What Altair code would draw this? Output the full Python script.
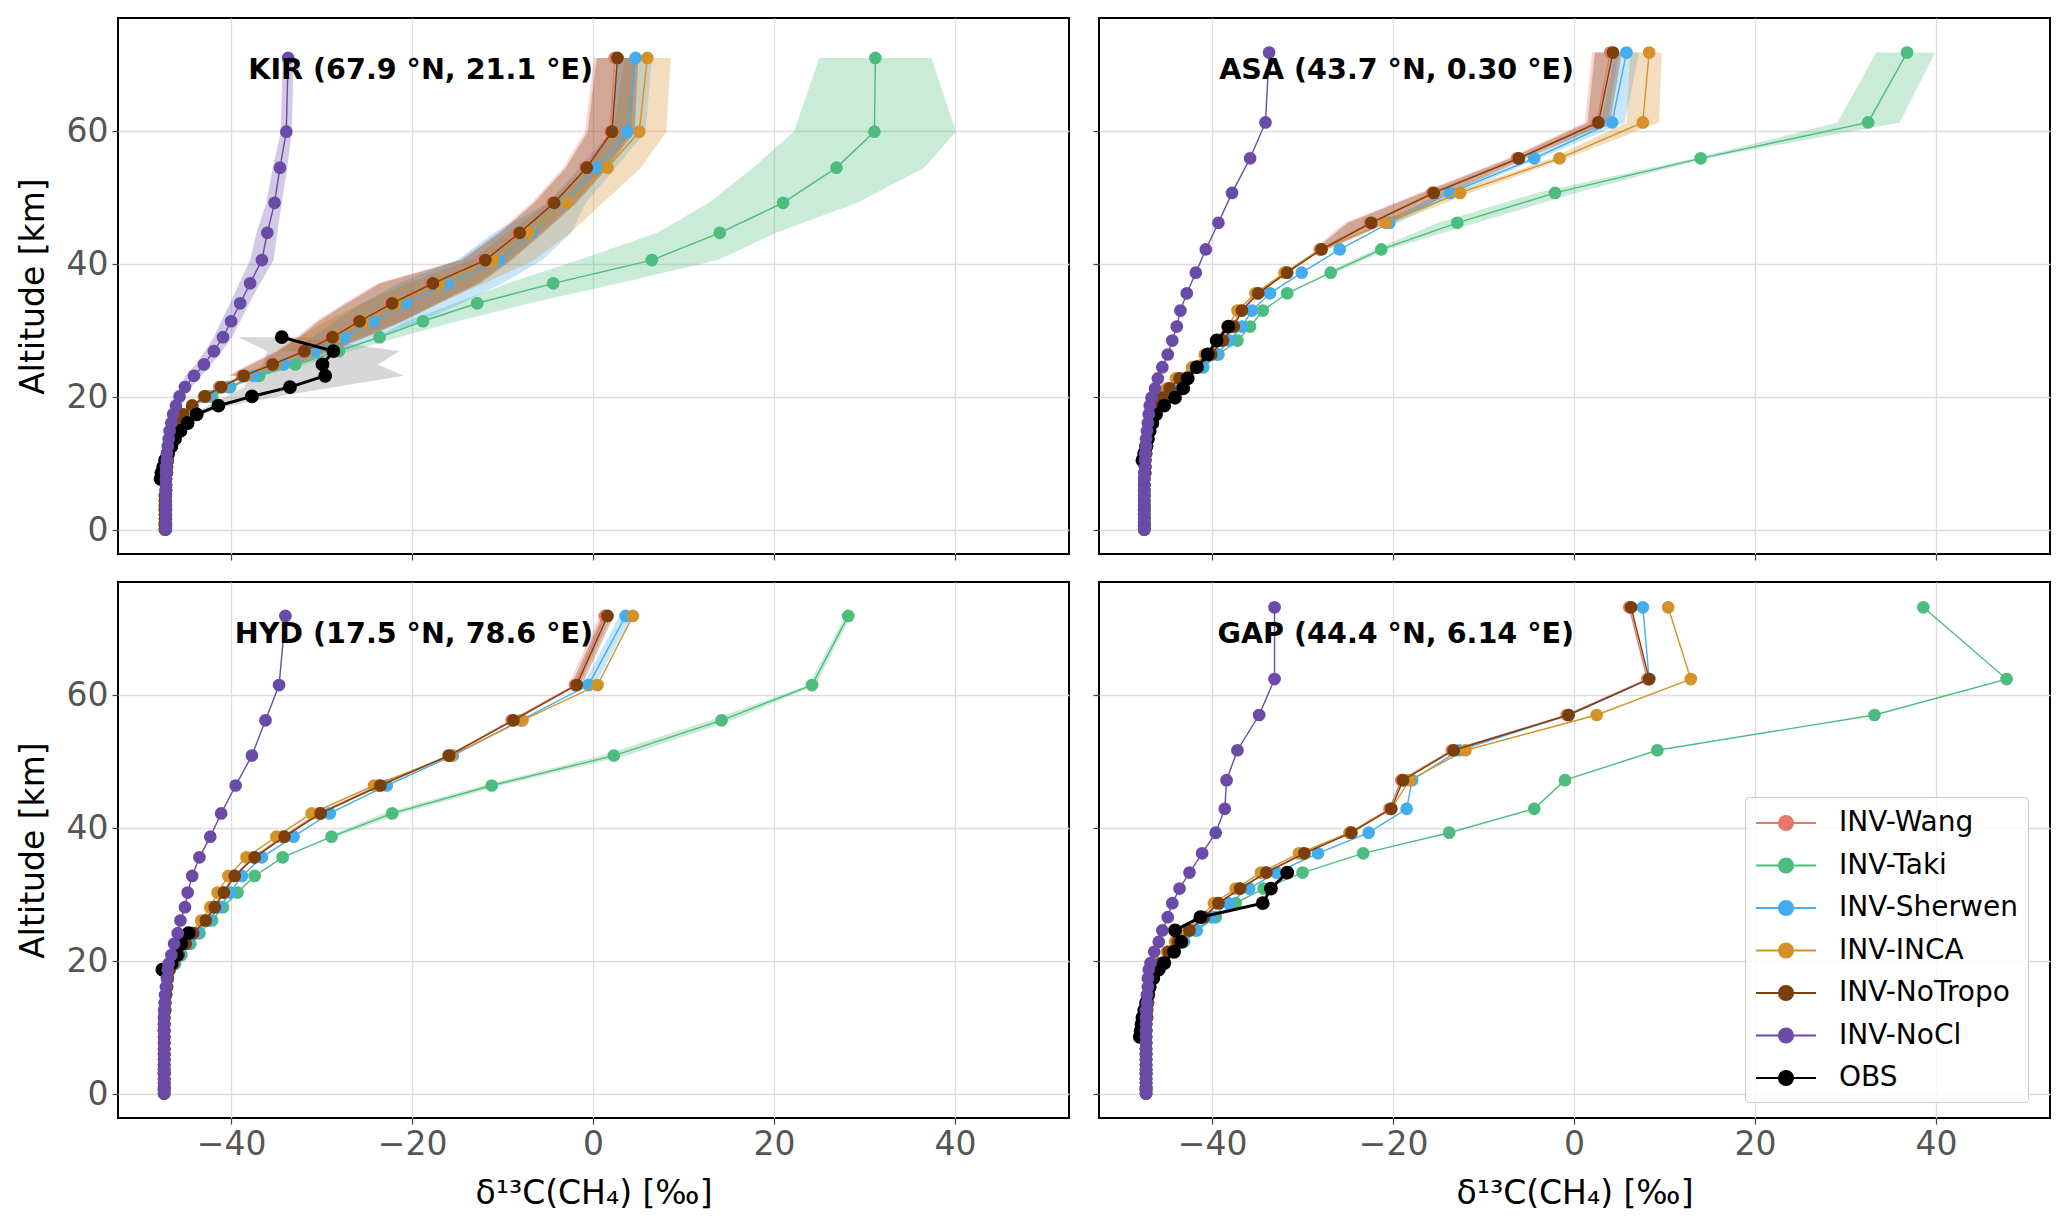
import altair as alt
import pandas as pd

# series, colours and panels
series_order = ["INV-Wang", "INV-Taki", "INV-Sherwen", "INV-INCA", "INV-NoTropo", "INV-NoCl", "OBS"]
series_colors = ["#e5786d", "#4dbd7f", "#45acef", "#d4922a", "#7b3f0b", "#6a4ba8", "#000000"]
draw_order = ["INV-Wang", "INV-Taki", "INV-Sherwen", "INV-INCA", "INV-NoTropo", "OBS", "INV-NoCl"]
band_order = ["OBS", "INV-Taki", "INV-Wang", "INV-Sherwen", "INV-INCA", "INV-NoTropo", "INV-NoCl"]

stations = ["KIR", "ASA", "HYD", "GAP"]
station_titles = ["KIR (67.9 °N, 21.1 °E)", "ASA (43.7 °N, 0.30 °E)",
                  "HYD (17.5 °N, 78.6 °E)", "GAP (44.4 °N, 6.14 °E)"]

x_ticks = [-40, -20, 0, 20, 40]
y_ticks = [0, 20, 40, 60]

# model levels below ~19 km (shared by all stations)
low_alt = [18.7, 17.4, 16.1, 14.9, 13.7, 12.6, 11.5, 10.5, 9.5, 8.6, 7.7, 6.8,
           6.0, 5.2, 4.4, 3.7, 3.0, 2.3, 1.7, 1.1, 0.6, 0.1]

# ---------------- KIR ----------------
kir_alt = [71.0, 59.9, 54.5, 49.2, 44.7, 40.6, 37.1, 34.1, 31.4, 29.0, 26.9, 24.9, 23.2, 21.5, 20.1]
kir_wang = [2.4, 1.9, -0.9, -4.5, -8.3, -12.1, -17.9, -22.4, -26.0, -29.0, -32.1, -35.6, -38.8, -41.3, -43.0]
kir_taki = [31.2, 31.1, 26.9, 21.0, 14.0, 6.5, -4.4, -12.8, -18.8, -23.6, -28.1, -32.9, -36.9, -40.1, -42.1]
kir_sherwen = [4.7, 3.8, 0.5, -3.2, -6.8, -10.4, -16.1, -20.7, -24.3, -27.5, -30.7, -34.2, -37.5, -40.3, -42.4]
kir_inca = [6.0, 5.1, 1.6, -2.9, -7.1, -11.0, -17.0, -21.8, -25.4, -28.6, -31.8, -35.2, -38.4, -41.0, -42.8]
kir_notropo = [2.7, 2.1, -0.7, -4.3, -8.1, -11.9, -17.7, -22.2, -25.8, -28.8, -31.9, -35.4, -38.6, -41.1, -42.9]
kir_nocl = [-33.7, -33.9, -34.6, -35.2, -36.0, -36.6, -37.9, -39.0, -40.0, -40.9, -41.9, -43.0, -44.1, -45.1, -45.7]
kir_low = [-44.3, -45.3, -45.9, -46.3, -46.6, -46.8, -46.9, -47.0, -47.1, -47.1, -47.2, -47.2,
           -47.2, -47.3, -47.3, -47.3, -47.3, -47.3, -47.3, -47.3, -47.3, -47.3]
kir_nocl_low = [-46.1, -46.4, -46.6, -46.8, -46.9, -47.0, -47.1, -47.1, -47.2, -47.2, -47.2, -47.2,
                -47.2, -47.2, -47.2, -47.2, -47.2, -47.2, -47.2, -47.2, -47.2, -47.2]
kir_obs_alt = [29.0, 26.9, 24.9, 23.2, 21.5, 20.1, 18.7, 17.4, 16.1, 14.9, 13.7, 12.6, 11.5, 10.5, 9.5, 8.6, 7.7]
kir_obs = [-34.4, -28.7, -29.9, -29.6, -33.5, -37.7, -41.4, -43.8, -44.8, -45.6, -46.2, -46.6, -47.0,
           -47.3, -47.5, -47.7, -47.8]
kir_obs_lo = [-39.2, -36.0, -36.5, -38.0, -38.5, -40.5, -42.5, -44.3]
kir_obs_hi = [-32.0, -21.4, -23.8, -20.9, -28.5, -34.8, -40.3, -43.3]
kir_taki_lo = [25.0, 22.2, 17.7, 12.8, 7.1, -1.6, -9.4, -15.3, -20.6, -24.0, -29.0, -33.7, -37.4]
kir_taki_hi = [37.4, 40.1, 36.6, 29.2, 20.2, 13.8, 2.8, -7.0, -15.0, -21.5, -26.8, -31.8, -36.4]
kir_wang_lo = [0.1, -0.9, -3.3, -6.8, -10.6, -14.8, -23.8, -27.5, -30.6, -32.8, -35.1, -38.1, -40.3]
kir_wang_hi = [4.7, 4.3, 1.3, -2.1, -5.8, -9.3, -12.8, -17.3, -21.3, -25.3, -29.3, -33.3, -37.5]
kir_notropo_lo = [0.4, -0.6, -3.0, -6.5, -10.3, -14.5, -23.5, -27.2, -30.3, -32.5, -34.8, -37.8, -40.0]
kir_notropo_hi = [5.0, 4.6, 1.6, -1.8, -5.5, -9.0, -12.5, -17.0, -21.0, -25.0, -29.0, -33.0, -37.2]
kir_inca_lo = [3.5, 2.2, -1.0, -5.0, -9.5, -13.5, -20.5, -25.5, -29.5, -32.5, -35.0]
kir_inca_hi = [8.6, 8.1, 5.3, 1.1, -2.5, -6.5, -12.0, -17.0, -21.0, -25.5, -29.5]
kir_sherwen_lo = [2.8, 1.9, -1.5, -5.0, -11.0, -15.0, -21.5, -25.5, -28.5, -31.0, -33.5]
kir_sherwen_hi = [6.5, 5.8, 2.5, -0.8, -2.4, -5.6, -10.0, -14.5, -19.0, -23.8, -28.0]
kir_nocl_lo = [-34.3, -34.5, -35.4, -36.1, -37.2, -37.9, -39.1, -40.1, -41.1, -41.9, -42.9, -43.9, -45.0, -45.8]
kir_nocl_hi = [-33.1, -33.3, -33.8, -34.4, -34.9, -35.3, -36.8, -38.0, -39.0, -39.9, -41.0, -42.2, -43.3, -44.4]

# ---------------- ASA ----------------
asa_alt = [71.8, 61.3, 55.9, 50.7, 46.2, 42.2, 38.7, 35.6, 33.0, 30.6, 28.5, 26.4, 24.5, 22.8, 21.3, 19.9]
asa_wang = [4.0, 2.5, -6.3, -15.7, -22.6, -28.1, -31.9, -35.0, -36.8, -37.8, -39.0, -40.3, -41.8, -43.7, -44.8, -45.6]
asa_taki = [36.8, 32.5, 14.0, -2.1, -12.9, -21.3, -26.9, -31.7, -34.4, -35.8, -37.2, -39.3, -41.0, -42.8, -44.2, -45.1]
asa_sherwen = [5.8, 4.2, -4.4, -13.7, -20.4, -25.9, -30.1, -33.6, -35.6, -36.7, -38.1, -39.5, -41.0, -43.0, -44.3, -45.2]
asa_inca = [8.3, 7.6, -1.6, -12.6, -20.8, -28.0, -32.0, -35.2, -37.2, -38.3, -39.5, -40.8, -42.2, -44.0, -45.0, -45.7]
asa_notropo = [4.3, 2.7, -6.1, -15.5, -22.4, -27.9, -31.7, -34.9, -36.7, -37.6, -38.8, -40.1, -41.6, -43.6, -44.7, -45.5]
asa_nocl = [-33.7, -34.1, -35.8, -37.8, -39.3, -40.7, -41.8, -42.8, -43.5, -43.9, -44.4, -44.9, -45.5, -46.0, -46.3, -46.7]
asa_low = [-46.0, -46.4, -46.7, -46.9, -47.1, -47.2, -47.3, -47.4, -47.4, -47.4, -47.5, -47.5,
           -47.5, -47.5, -47.5, -47.5, -47.5, -47.5, -47.5, -47.5, -47.5, -47.5]
asa_nocl_low = [-46.9, -47.0, -47.1, -47.2, -47.3, -47.3, -47.4, -47.4, -47.4, -47.5, -47.5, -47.5,
                -47.5, -47.5, -47.5, -47.5, -47.5, -47.5, -47.5, -47.5, -47.5, -47.5]
asa_obs_alt = [30.6, 28.5, 26.4, 24.5, 22.8, 21.3, 19.9, 18.7, 17.4, 16.1, 14.9, 13.7, 12.6, 11.5, 10.5]
asa_obs = [-38.2, -39.5, -40.5, -41.7, -42.7, -43.2, -44.1, -45.3, -46.2, -46.6, -46.9, -47.1, -47.3, -47.5, -47.7]
asa_taki_lo = [33.4, 29.1, 13.4, -4.2, -15.0, -22.0, -27.4]
asa_taki_hi = [39.9, 36.0, 14.6, 0.2, -10.8, -20.6, -26.4]
asa_wang_lo = [2.0, 1.2, -7.3, -17.1, -25.3, -28.9]
asa_wang_hi = [5.0, 3.7, -5.5, -14.1, -20.8, -27.5]
asa_notropo_lo = [2.3, 1.5, -7.0, -16.8, -25.0, -28.6]
asa_notropo_hi = [5.3, 4.0, -5.2, -13.8, -20.5, -27.2]
asa_sherwen_lo = [4.5, 3.0, -5.0, -14.5, -21.3]
asa_sherwen_hi = [7.2, 5.6, -3.8, -12.8, -19.5]
asa_inca_lo = [6.2, 5.8, -2.5, -13.5, -21.8]
asa_inca_hi = [9.7, 9.4, -0.8, -11.5, -19.8]

# ---------------- HYD ----------------
hyd_alt = [71.9, 61.5, 56.2, 50.9, 46.4, 42.2, 38.7, 35.6, 32.8, 30.3, 28.1, 26.1, 24.2, 22.6, 20.9, 19.6]
hyd_wang = [1.3, -2.0, -9.0, -16.0, -23.7, -30.3, -34.3, -37.5, -39.7, -40.9, -41.9, -42.9, -44.3, -45.1, -45.9, -46.5]
hyd_taki = [28.2, 24.2, 14.2, 2.3, -11.2, -22.2, -28.9, -34.3, -37.4, -39.3, -40.9, -42.1, -43.5, -44.5, -45.5, -46.2]
hyd_sherwen = [3.6, -0.5, -8.0, -15.5, -22.8, -29.1, -33.1, -36.6, -38.8, -40.1, -41.3, -42.5, -43.8, -44.8, -45.6, -46.3]
hyd_inca = [4.4, 0.5, -7.8, -15.7, -24.2, -31.1, -35.0, -38.3, -40.3, -41.5, -42.3, -43.3, -44.5, -45.2, -45.9, -46.5]
hyd_notropo = [1.6, -1.8, -8.8, -15.9, -23.5, -30.1, -34.1, -37.4, -39.6, -40.8, -41.8, -42.8, -44.2, -45.0, -45.8, -46.4]
hyd_nocl = [-34.0, -34.7, -36.2, -37.7, -39.5, -41.1, -42.3, -43.5, -44.3, -44.8, -45.1, -45.6, -45.9, -46.3, -46.6, -46.9]
hyd_low = [-46.8, -47.0, -47.1, -47.2, -47.3, -47.3, -47.4, -47.4, -47.4, -47.4, -47.4, -47.4,
           -47.4, -47.4, -47.4, -47.4, -47.4, -47.4, -47.4, -47.4, -47.4, -47.4]
hyd_nocl_low = [-47.0, -47.1, -47.2, -47.3, -47.3, -47.4, -47.4, -47.4, -47.4, -47.4, -47.4, -47.4,
                -47.4, -47.4, -47.4, -47.4, -47.4, -47.4, -47.4, -47.4, -47.4, -47.4]
hyd_obs_alt = [24.2, 22.6, 20.9, 19.6, 18.7]
hyd_obs = [-44.7, -45.5, -46.0, -46.6, -47.6]
hyd_taki_lo = [27.9, 23.8, 13.0, 1.0, -12.2, -23.2, -29.4]
hyd_taki_hi = [28.5, 24.6, 15.4, 3.7, -10.2, -21.2, -28.4]
hyd_wang_lo = [0.7, -2.7]
hyd_wang_hi = [2.0, -1.5]
hyd_notropo_lo = [1.0, -2.4]
hyd_notropo_hi = [2.3, -1.2]
hyd_sherwen_lo = [2.9, -1.1]
hyd_sherwen_hi = [4.3, 0.2]

# ---------------- GAP ----------------
gap_alt = [73.2, 62.4, 57.0, 51.7, 47.2, 42.9, 39.3, 36.2, 33.3, 30.9, 28.7, 26.6, 24.6, 22.9, 21.4, 19.7]
gap_wang = [6.1, 8.1, -0.8, -13.5, -19.1, -20.4, -24.8, -30.0, -34.1, -37.0, -39.4, -41.0, -42.6, -43.9, -44.9, -45.7]
gap_taki = [38.6, 47.8, 33.2, 9.2, -1.0, -4.4, -13.8, -23.3, -30.0, -34.3, -37.4, -39.6, -41.7, -43.1, -44.3, -45.2]
gap_sherwen = [7.6, 8.3, -0.6, -12.7, -17.9, -18.5, -22.7, -28.3, -32.9, -35.9, -38.2, -40.0, -41.8, -43.2, -44.4, -45.3]
gap_inca = [10.4, 12.9, 2.5, -12.0, -18.2, -20.2, -24.8, -30.4, -34.6, -37.4, -39.8, -41.3, -42.9, -44.1, -45.0, -45.8]
gap_notropo = [6.3, 8.3, -0.6, -13.3, -18.9, -20.2, -24.6, -29.8, -34.0, -36.9, -39.3, -40.9, -42.5, -43.8, -44.8, -45.6]
gap_nocl = [-33.1, -33.1, -34.8, -37.2, -38.4, -38.6, -39.6, -41.1, -42.5, -43.6, -44.4, -44.9, -45.5, -45.9, -46.4, -46.8]
gap_low = [-46.3, -46.7, -46.9, -47.0, -47.1, -47.2, -47.2, -47.3, -47.3, -47.3, -47.3, -47.3,
           -47.3, -47.3, -47.3, -47.3, -47.3, -47.3, -47.3, -47.3, -47.3, -47.3]
gap_nocl_low = [-47.0, -47.1, -47.1, -47.2, -47.2, -47.3, -47.3, -47.3, -47.3, -47.3, -47.3, -47.3,
                -47.3, -47.3, -47.3, -47.3, -47.3, -47.3, -47.3, -47.3, -47.3, -47.3]
gap_obs_alt = [33.3, 30.9, 28.7, 26.6, 24.6, 22.9, 21.4, 19.7, 18.7, 17.4, 16.1, 14.9, 13.7, 12.6,
               11.5, 10.5, 9.5, 8.6]
gap_obs = [-31.7, -33.5, -34.4, -41.3, -44.1, -43.4, -44.2, -45.3, -45.9, -46.5, -46.9, -47.1, -47.3,
           -47.5, -47.7, -47.8, -47.9, -48.0]

# ---------------- build long tables ----------------
prof_rows = []
band_rows = []


def add_prof(st, name, alts, vals):
    for a, v in zip(alts, vals):
        prof_rows.append({"station": st, "series": name, "alt": a, "val": v})


def add_band(st, name, alts, lo, hi):
    for a, l, h in zip(alts, lo, hi):
        band_rows.append({"station": st, "series": name, "alt": a, "lo": l, "hi": h})


for st, alts, low, nocl_low, models, nocl in [
    ("KIR", kir_alt, kir_low, kir_nocl_low, [kir_wang, kir_taki, kir_sherwen, kir_inca, kir_notropo], kir_nocl),
    ("ASA", asa_alt, asa_low, asa_nocl_low, [asa_wang, asa_taki, asa_sherwen, asa_inca, asa_notropo], asa_nocl),
    ("HYD", hyd_alt, hyd_low, hyd_nocl_low, [hyd_wang, hyd_taki, hyd_sherwen, hyd_inca, hyd_notropo], hyd_nocl),
    ("GAP", gap_alt, gap_low, gap_nocl_low, [gap_wang, gap_taki, gap_sherwen, gap_inca, gap_notropo], gap_nocl),
]:
    for name, vals in zip(series_order[:5], models):
        add_prof(st, name, alts + low_alt, vals + low)
    add_prof(st, "INV-NoCl", alts + low_alt, nocl + nocl_low)

add_prof("KIR", "OBS", kir_obs_alt, kir_obs)
add_prof("ASA", "OBS", asa_obs_alt, asa_obs)
add_prof("HYD", "OBS", hyd_obs_alt, hyd_obs)
add_prof("GAP", "OBS", gap_obs_alt, gap_obs)

add_band("KIR", "OBS", kir_obs_alt, kir_obs_lo, kir_obs_hi)
add_band("KIR", "INV-Taki", kir_alt, kir_taki_lo, kir_taki_hi)
add_band("KIR", "INV-Wang", kir_alt, kir_wang_lo, kir_wang_hi)
add_band("KIR", "INV-Sherwen", kir_alt, kir_sherwen_lo, kir_sherwen_hi)
add_band("KIR", "INV-INCA", kir_alt, kir_inca_lo, kir_inca_hi)
add_band("KIR", "INV-NoTropo", kir_alt, kir_notropo_lo, kir_notropo_hi)
add_band("KIR", "INV-NoCl", kir_alt, kir_nocl_lo, kir_nocl_hi)
add_band("ASA", "INV-Taki", asa_alt, asa_taki_lo, asa_taki_hi)
add_band("ASA", "INV-Wang", asa_alt, asa_wang_lo, asa_wang_hi)
add_band("ASA", "INV-Sherwen", asa_alt, asa_sherwen_lo, asa_sherwen_hi)
add_band("ASA", "INV-INCA", asa_alt, asa_inca_lo, asa_inca_hi)
add_band("ASA", "INV-NoTropo", asa_alt, asa_notropo_lo, asa_notropo_hi)
add_band("HYD", "INV-Taki", hyd_alt, hyd_taki_lo, hyd_taki_hi)
add_band("HYD", "INV-Wang", hyd_alt, hyd_wang_lo, hyd_wang_hi)
add_band("HYD", "INV-Sherwen", hyd_alt, hyd_sherwen_lo, hyd_sherwen_hi)
add_band("HYD", "INV-NoTropo", hyd_alt, hyd_notropo_lo, hyd_notropo_hi)

prof_df = pd.DataFrame(prof_rows)
band_df = pd.DataFrame(band_rows)

line_colors = dict(zip(series_order, series_colors))
band_colors = dict(line_colors)
band_colors["OBS"] = "#9a9a9a"
band_opacity = {"OBS": 0.4}

# legend symbol: a line with a dot on it (matplotlib style)
legend_path = "M-1,0L3,0M0.53,0A0.47,0.47,0,1,0,1.47,0A0.47,0.47,0,1,0,0.53,0Z"
legend = alt.Legend(
    title=None, orient="none", legendX=1627, legendY=779,
    symbolType=legend_path, symbolSize=900, symbolStrokeWidth=2,
    labelFont="DejaVu Sans", labelFontSize=28, labelColor="black", labelLimit=400,
    labelOffset=52, rowPadding=12.5, padding=10,
    fillColor="rgba(255,255,255,0.8)", strokeColor="#cccccc", cornerRadius=4,
)


def cscale():
    return alt.Scale(domain=series_order, range=series_colors)


def panel(i, show_x, show_y):
    st = stations[i]
    xs = alt.Scale(domain=[-52.5, 52.6], nice=False, zero=False)
    ys = alt.Scale(domain=[-3.6, 77.0], nice=False, zero=False)
    xa = alt.Axis(values=x_ticks, labels=show_x, title="δ¹³C(CH₄) [‰]" if show_x else None)
    ya = alt.Axis(values=y_ticks, labels=show_y, title="Altitude [km]" if show_y else None)

    def X(f):
        return alt.X(f"{f}:Q", scale=xs, axis=xa)

    def Y(f):
        return alt.Y(f"{f}:Q", scale=ys, axis=ya)

    layers = []
    # spread bands, one area per series
    band_st = [r for r in band_rows if r["station"] == st]
    for s in band_order:
        if not any(r["series"] == s for r in band_st):
            continue
        layers.append(
            alt.Chart(band_df).transform_filter(
                (alt.datum.station == st) & (alt.datum.series == s)
            ).mark_area(
                color=band_colors[s], opacity=band_opacity.get(s, 0.3)
            ).encode(x=X("lo"), x2=alt.X2("hi"), y=Y("alt"))
        )

    prof = alt.Chart(prof_df).transform_filter(alt.datum.station == st)
    for s in draw_order:
        d = prof.transform_filter(alt.datum.series == s)
        is_obs = s == "OBS"
        layers.append(d.mark_line(color=line_colors[s], strokeWidth=3.0 if is_obs else 1.4).encode(
            x=X("val"), y=Y("alt"), order=alt.Order("alt:Q"),
        ))
        layers.append(d.mark_circle(size=140 if is_obs else 115, opacity=1).encode(
            x=X("val"), y=Y("alt"),
            fill=alt.Fill("series:N", scale=cscale(), legend=legend),
            stroke=alt.Stroke("series:N", scale=cscale(), legend=legend),
        ))
    layers.append(
        alt.Chart(pd.DataFrame({"label": [station_titles[i]]})).mark_text(
            font="DejaVu Sans", fontSize=28.6, fontWeight="bold", align="right",
            baseline="middle", color="black",
        ).encode(x=alt.datum(0), y=alt.datum(69.2), text="label:N")
    )
    return alt.layer(*layers).properties(width=951, height=536)


chart = alt.concat(
    panel(0, False, True), panel(1, False, False),
    panel(2, True, True), panel(3, True, False),
    columns=2, spacing={"row": 19, "column": 21},
).properties(
    padding={"left": 8, "top": 9, "right": 0, "bottom": 0}
).configure(
    font="DejaVu Sans"
).configure_view(
    stroke="black", strokeWidth=2
).configure_axis(
    labelFont="DejaVu Sans", labelFontSize=33, labelColor="#555555",
    titleFont="DejaVu Sans", titleFontSize=33, titleFontWeight="normal", titleColor="black",
    tickSize=6, tickColor="#444444", tickWidth=1.2, labelPadding=4,
    domain=False, gridColor="#dddddd", gridWidth=1.3,
).configure_axisX(
    titlePadding=16
).configure_axisY(
    titlePadding=16
)

chart.save("out.html", embed_options={"renderer": "svg", "actions": False})
